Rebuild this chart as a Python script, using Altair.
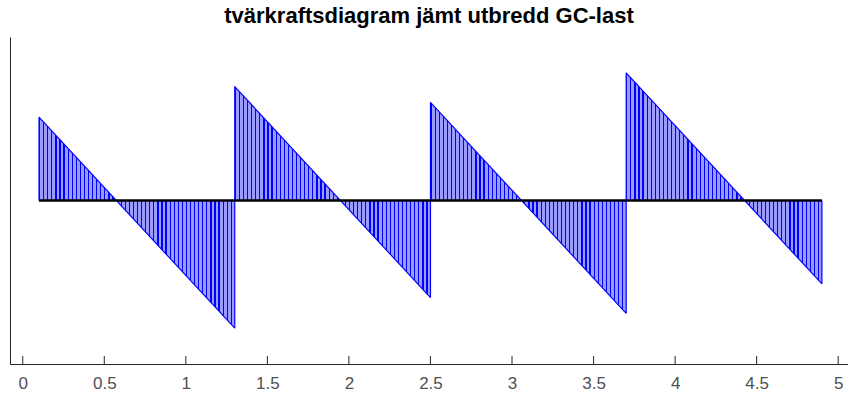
import altair as alt
import pandas as pd

# Continuous beam, four spans between supports; shear at each span end
supports = [0.1, 1.3, 2.5, 3.7, 4.9]
v_left = [3.95, 5.4, 4.65, 6.05]     # shear just right of each left support
v_right = [-6.05, -4.6, -5.35, -3.95]  # shear just left of each right support
tick_values = [0, 0.5, 1, 1.5, 2, 2.5, 3, 3.5, 4, 4.5, 5]

rows = []
for i in range(4):
    rows.append({"seg": i, "x": supports[i], "v": v_left[i]})
    rows.append({"seg": i, "x": supports[i + 1], "v": v_right[i]})
df = pd.DataFrame(rows)
ticks_df = pd.DataFrame({"t": tick_values})
base_df = pd.DataFrame({"x": [supports[0]], "x2": [supports[-1]], "v": [0.0]})

XDOM = [-0.078, 5.06]
YDOM = [-7.75, 7.75]
BLUE = "#0000ff"
LIGHT = "#9c9cff"

# Vertical hatching across each shear block
n = 48
stops = []
for i in range(n):
    o = i / n
    w = 0.3 / n
    stops += [
        alt.GradientStop(color=BLUE, offset=round(o, 5)),
        alt.GradientStop(color=BLUE, offset=round(o + w, 5)),
        alt.GradientStop(color=LIGHT, offset=round(o + w, 5)),
        alt.GradientStop(color=LIGHT, offset=round(min((i + 1) / n, 1.0), 5)),
    ]
hatch = alt.Gradient(gradient="linear", stops=stops, x1=0, x2=1, y1=0, y2=0)

x_enc = alt.X("x:Q", scale=alt.Scale(domain=XDOM, nice=False, zero=False),
              axis=alt.Axis(values=tick_values, ticks=False, grid=False,
                            labelFont="Liberation Sans", labelFontSize=17,
                            labelColor="#505050", labelPadding=11,
                            domainColor="#262626", title=None, format="~g"))
y_enc = alt.Y("v:Q", scale=alt.Scale(domain=YDOM, nice=False, zero=False),
              axis=alt.Axis(labels=False, ticks=False, grid=False,
                            domainColor="#262626", title=None))

area = alt.Chart(df).mark_area(color=hatch, opacity=1).encode(
    x=x_enc, y=y_enc, y2=alt.datum(0), detail="seg:N")

edge = alt.Chart(df).mark_line(color=BLUE, strokeWidth=1.2).encode(
    x="x:Q", y="v:Q", detail="seg:N")

stems = alt.Chart(df).mark_rule(color=BLUE, strokeWidth=1.2).encode(
    x="x:Q", y="v:Q", y2=alt.datum(0))

zero = alt.Chart(base_df).mark_rule(color="black", strokeWidth=2.5).encode(
    x="x:Q", x2="x2:Q", y="v:Q")

ticks = alt.Chart(ticks_df).mark_rule(color="#262626", strokeWidth=1).encode(
    x=alt.X("t:Q"), y=alt.value(327), y2=alt.value(319))

chart = alt.layer(area, edge, stems, zero, ticks).properties(
    width=838, height=327,
    title=alt.TitleParams("tvärkraftsdiagram jämt utbredd GC-last",
                          font="Liberation Sans", fontSize=22, fontWeight="bold",
                          color="black", anchor="middle", offset=9),
    autosize=alt.AutoSizeParams(type="none"),
    padding={"left": 10, "top": 37, "right": 0, "bottom": 36},
).configure_view(stroke=None).configure_axisX(domainWidth=1).configure_axisY(domainWidth=1)

chart.save("out.html", embed_options={"renderer": "svg", "actions": False})
